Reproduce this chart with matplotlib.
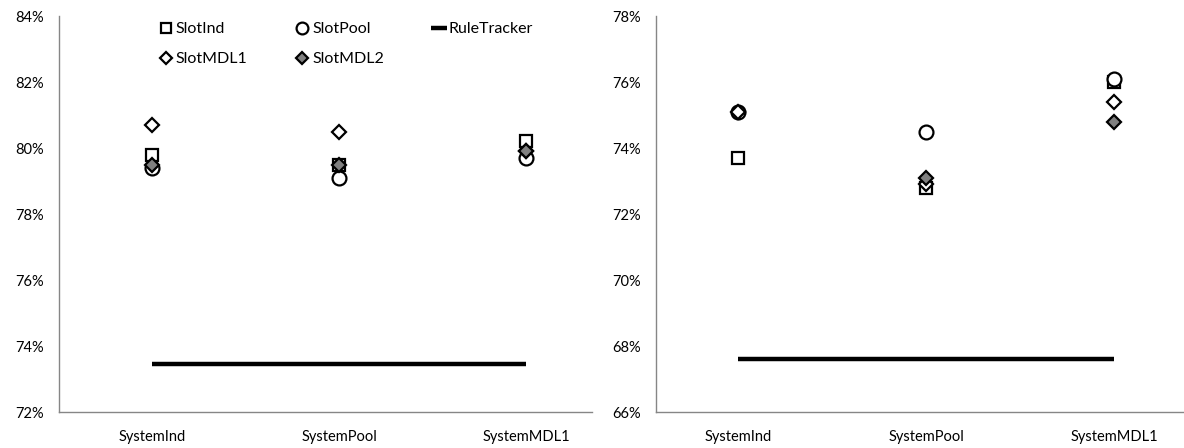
import matplotlib
matplotlib.use("Agg")
import matplotlib.pyplot as plt
from matplotlib.ticker import FuncFormatter
import numpy as np

plt.rcParams['font.family'] = ['Lato', 'DejaVu Sans']

# ===== DATA =====
systems = ["SystemInd", "SystemPool", "SystemMDL1"]

left_slot_ind = [79.8, 79.5, 80.2]
left_slot_pool = [79.4, 79.1, 79.7]
left_slot_mdl1 = [80.7, 80.5, 79.9]
left_slot_mdl2 = [79.5, 79.5, 79.9]
left_rule_tracker = [73.45, 73.45, 73.45]

right_slot_ind = [73.7, 72.8, 76.0]
right_slot_pool = [75.1, 74.5, 76.1]
right_slot_mdl1 = [75.1, 72.9, 75.4]
right_slot_mdl2 = [np.nan, 73.1, 74.8]   # hidden in the source at SystemInd
right_rule_tracker = [67.6, 67.6, 67.6]

left_yticks = [72, 74, 76, 78, 80, 82, 84]
right_yticks = [66, 68, 70, 72, 74, 76, 78]

# ===== FIGURE =====
fig = plt.figure(figsize=(11.84, 4.48), dpi=100)
ax1 = fig.add_axes([59 / 1184, 36 / 448, 533 / 1184, 396 / 448])
ax2 = fig.add_axes([656 / 1184, 36 / 448, 528 / 1184, 396 / 448])

x = np.arange(len(systems))
mk = dict(linestyle='none', markeredgecolor='black', markeredgewidth=1.6)


def draw(ax, s_ind, s_pool, s_mdl1, s_mdl2, rule, yticks, xlim):
    h_rule, = ax.plot(x, rule, color='black', linewidth=3.2, solid_capstyle='butt',
                      label='RuleTracker', zorder=2)
    h_ind, = ax.plot(x, s_ind, marker='s', markersize=8.5, markerfacecolor='white',
                     label='SlotInd', zorder=3, **mk)
    h_pool, = ax.plot(x, s_pool, marker='o', markersize=10, markerfacecolor='white',
                      label='SlotPool', zorder=3, **mk)
    h_mdl1, = ax.plot(x, s_mdl1, marker='D', markersize=7.5, markerfacecolor='white',
                      label='SlotMDL1', zorder=4, **mk)
    h_mdl2, = ax.plot(x, s_mdl2, marker='D', markersize=7.5, markerfacecolor='#808080',
                      label='SlotMDL2', zorder=5, **mk)

    ax.set_ylim(yticks[0], yticks[-1])
    ax.set_yticks(yticks)
    ax.yaxis.set_major_formatter(FuncFormatter(lambda v, p: f"{v:.0f}%"))
    ax.set_xlim(*xlim)
    ax.set_xticks(x)
    ax.set_xticklabels(systems)
    ax.tick_params(axis='y', length=0, pad=11, labelsize=10.5)
    ax.tick_params(axis='x', length=0, pad=13, labelsize=10.5)
    for side in ['top', 'right']:
        ax.spines[side].set_visible(False)
    for side in ['left', 'bottom']:
        ax.spines[side].set_color('#868686')
        ax.spines[side].set_linewidth(1.0)
    ax.set_facecolor('none')
    return h_ind, h_pool, h_rule, h_mdl1, h_mdl2


h_ind, h_pool, h_rule, h_mdl1, h_mdl2 = draw(
    ax1, left_slot_ind, left_slot_pool, left_slot_mdl1, left_slot_mdl2,
    left_rule_tracker, left_yticks, (-0.497, 2.353))

draw(ax2, right_slot_ind, right_slot_pool, right_slot_mdl1, right_slot_mdl2,
     right_rule_tracker, right_yticks, (-0.436, 2.37))

# ===== LEGEND =====
ax1.legend([h_ind, h_mdl1, h_pool, h_mdl2, h_rule],
           ['SlotInd', 'SlotMDL1', 'SlotPool', 'SlotMDL2', 'RuleTracker'],
           ncol=3, loc='upper left', bbox_to_anchor=(0.17, 1.005),
           borderpad=0, frameon=False, fontsize=11.5, handlelength=1.0,
           handletextpad=0.15, columnspacing=2.9, labelspacing=1.0,
           markerscale=0.85)

fig.savefig("out.png", dpi=100)
